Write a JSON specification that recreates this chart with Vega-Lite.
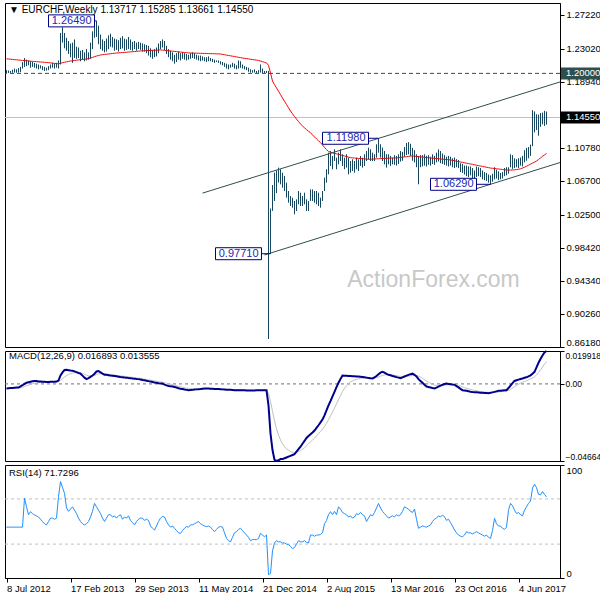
{
"$schema": "https://vega.github.io/schema/vega-lite/v6.json",
"padding": {"top": 2, "left": 2, "right": 0, "bottom": 0},
"background": "#ffffff",
"spacing": 4,
"bounds": "flush",
"config": {
  "view": {"stroke": "#000000", "strokeWidth": 1},
  "font": "Liberation Sans",
  "axis": {"labelFont": "Liberation Sans", "labelFontSize": 9.5, "labelColor": "#000000", "tickColor": "#000000", "domainColor": "#000000", "grid": false, "tickSize": 4, "labelPadding": 2, "labelOverlap": false},
  "title": {"font": "Liberation Sans", "fontSize": 9.5, "fontWeight": "normal", "color": "#000000", "anchor": "start", "frame": "group"}
},
"datasets": {
"trend": [
{"id": "upper", "w": 98, "p": 1.052},
{"id": "upper", "w": 276.75, "p": 1.1894},
{"id": "lower", "w": 129, "p": 0.9756},
{"id": "lower", "w": 276.75, "p": 1.0898}
],
"notes": [
{"t": "1.26490", "w": 45, "p": 1.2649, "bw": 44},
{"t": "1.11980", "w": 186, "p": 1.1198, "bw": 181},
{"t": "1.06290", "w": 242, "p": 1.0629, "bw": 235},
{"t": "0.97710", "w": 132, "p": 0.9771, "bw": 127.5}
],
"wk": [
{"w":0,"h":1.2040,"l":1.2005,"ma":1.2180,"m":-0.0027,"s":-0.0027,"r":45},
{"w":1,"h":1.2035,"l":1.2005,"ma":1.2178,"m":-0.0026,"s":-0.0027,"r":45},
{"w":2,"h":1.2030,"l":1.2006,"ma":1.2175,"m":-0.0025,"s":-0.0027,"r":45},
{"w":3,"h":1.2045,"l":1.2008,"ma":1.2173,"m":-0.0024,"s":-0.0026,"r":45},
{"w":4,"h":1.2060,"l":1.2010,"ma":1.2170,"m":-0.0023,"s":-0.0026,"r":45},
{"w":5,"h":1.2050,"l":1.2008,"ma":1.2168,"m":-0.0022,"s":-0.0025,"r":45},
{"w":6,"h":1.2065,"l":1.2010,"ma":1.2165,"m":-0.0022,"s":-0.0025,"r":45},
{"w":7,"h":1.2080,"l":1.2015,"ma":1.2163,"m":-0.0015,"s":-0.0023,"r":45},
{"w":8,"h":1.2140,"l":1.2060,"ma":1.2160,"m":-0.0008,"s":-0.0020,"r":45},
{"w":9,"h":1.2190,"l":1.2080,"ma":1.2158,"m":0.0000,"s":-0.0016,"r":70.6},
{"w":10,"h":1.2170,"l":1.2090,"ma":1.2156,"m":0.0007,"s":-0.0011,"r":63},
{"w":11,"h":1.2160,"l":1.2100,"ma":1.2154,"m":0.0010,"s":-0.0007,"r":56},
{"w":12,"h":1.2150,"l":1.2070,"ma":1.2151,"m":0.0013,"s":-0.0003,"r":58.7},
{"w":13,"h":1.2140,"l":1.2080,"ma":1.2149,"m":0.0016,"s":0.0001,"r":57},
{"w":14,"h":1.2130,"l":1.2070,"ma":1.2147,"m":0.0018,"s":0.0004,"r":55.8},
{"w":15,"h":1.2120,"l":1.2060,"ma":1.2145,"m":0.0017,"s":0.0007,"r":55},
{"w":16,"h":1.2110,"l":1.2050,"ma":1.2143,"m":0.0015,"s":0.0008,"r":54},
{"w":17,"h":1.2100,"l":1.2060,"ma":1.2141,"m":0.0014,"s":0.0009,"r":52},
{"w":18,"h":1.2090,"l":1.2040,"ma":1.2139,"m":0.0013,"s":0.0010,"r":50},
{"w":19,"h":1.2080,"l":1.2030,"ma":1.2137,"m":0.0013,"s":0.0011,"r":48},
{"w":20,"h":1.2070,"l":1.2035,"ma":1.2135,"m":0.0012,"s":0.0011,"r":47},
{"w":21,"h":1.2090,"l":1.2040,"ma":1.2133,"m":0.0012,"s":0.0011,"r":50},
{"w":22,"h":1.2110,"l":1.2060,"ma":1.2130,"m":0.0013,"s":0.0012,"r":53},
{"w":23,"h":1.2130,"l":1.2070,"ma":1.2127,"m":0.0013,"s":0.0012,"r":53},
{"w":24,"h":1.2120,"l":1.2060,"ma":1.2124,"m":0.0013,"s":0.0012,"r":52},
{"w":25,"h":1.2130,"l":1.2070,"ma":1.2121,"m":0.0014,"s":0.0013,"r":53},
{"w":26,"h":1.2160,"l":1.2060,"ma":1.2118,"m":0.0020,"s":0.0014,"r":72},
{"w":27,"h":1.2500,"l":1.2110,"ma":1.2125,"m":0.0051,"s":0.0021,"r":85.4},
{"w":28,"h":1.2570,"l":1.2380,"ma":1.2132,"m":0.0070,"s":0.0031,"r":80},
{"w":29,"h":1.2500,"l":1.2310,"ma":1.2138,"m":0.0084,"s":0.0042,"r":75},
{"w":30,"h":1.2440,"l":1.2280,"ma":1.2143,"m":0.0085,"s":0.0050,"r":62},
{"w":31,"h":1.2400,"l":1.2240,"ma":1.2148,"m":0.0083,"s":0.0057,"r":59},
{"w":32,"h":1.2370,"l":1.2200,"ma":1.2153,"m":0.0081,"s":0.0062,"r":61},
{"w":33,"h":1.2380,"l":1.2130,"ma":1.2156,"m":0.0080,"s":0.0065,"r":63},
{"w":34,"h":1.2420,"l":1.2190,"ma":1.2160,"m":0.0076,"s":0.0068,"r":60},
{"w":35,"h":1.2330,"l":1.2180,"ma":1.2163,"m":0.0071,"s":0.0068,"r":57},
{"w":36,"h":1.2320,"l":1.2190,"ma":1.2166,"m":0.0066,"s":0.0068,"r":53},
{"w":37,"h":1.2280,"l":1.2150,"ma":1.2169,"m":0.0062,"s":0.0067,"r":50},
{"w":38,"h":1.2290,"l":1.2170,"ma":1.2172,"m":0.0050,"s":0.0064,"r":48},
{"w":39,"h":1.2260,"l":1.2150,"ma":1.2175,"m":0.0038,"s":0.0058,"r":47},
{"w":40,"h":1.2300,"l":1.2160,"ma":1.2178,"m":0.0029,"s":0.0053,"r":48},
{"w":41,"h":1.2260,"l":1.2170,"ma":1.2182,"m":0.0035,"s":0.0049,"r":50},
{"w":42,"h":1.2380,"l":1.2180,"ma":1.2190,"m":0.0043,"s":0.0048,"r":54},
{"w":43,"h":1.2520,"l":1.2300,"ma":1.2198,"m":0.0051,"s":0.0049,"r":59},
{"w":44,"h":1.2600,"l":1.2440,"ma":1.2206,"m":0.0062,"s":0.0051,"r":66},
{"w":45,"h":1.2649,"l":1.2450,"ma":1.2214,"m":0.0075,"s":0.0056,"r":63},
{"w":46,"h":1.2590,"l":1.2360,"ma":1.2221,"m":0.0078,"s":0.0060,"r":60},
{"w":47,"h":1.2480,"l":1.2300,"ma":1.2228,"m":0.0070,"s":0.0062,"r":57},
{"w":48,"h":1.2420,"l":1.2280,"ma":1.2231,"m":0.0062,"s":0.0062,"r":53},
{"w":49,"h":1.2400,"l":1.2260,"ma":1.2234,"m":0.0056,"s":0.0061,"r":50},
{"w":50,"h":1.2430,"l":1.2270,"ma":1.2237,"m":0.0055,"s":0.0060,"r":53},
{"w":51,"h":1.2470,"l":1.2300,"ma":1.2240,"m":0.0053,"s":0.0058,"r":56},
{"w":52,"h":1.2490,"l":1.2330,"ma":1.2243,"m":0.0051,"s":0.0057,"r":56},
{"w":53,"h":1.2450,"l":1.2320,"ma":1.2246,"m":0.0050,"s":0.0055,"r":54},
{"w":54,"h":1.2430,"l":1.2280,"ma":1.2249,"m":0.0048,"s":0.0054,"r":55},
{"w":55,"h":1.2420,"l":1.2290,"ma":1.2252,"m":0.0046,"s":0.0052,"r":53},
{"w":56,"h":1.2410,"l":1.2270,"ma":1.2254,"m":0.0044,"s":0.0050,"r":55},
{"w":57,"h":1.2440,"l":1.2300,"ma":1.2256,"m":0.0042,"s":0.0049,"r":56},
{"w":58,"h":1.2460,"l":1.2310,"ma":1.2258,"m":0.0041,"s":0.0047,"r":52},
{"w":59,"h":1.2430,"l":1.2280,"ma":1.2260,"m":0.0039,"s":0.0046,"r":54},
{"w":60,"h":1.2420,"l":1.2290,"ma":1.2262,"m":0.0038,"s":0.0044,"r":53},
{"w":61,"h":1.2450,"l":1.2300,"ma":1.2264,"m":0.0036,"s":0.0043,"r":55},
{"w":62,"h":1.2420,"l":1.2290,"ma":1.2266,"m":0.0035,"s":0.0041,"r":51},
{"w":63,"h":1.2390,"l":1.2280,"ma":1.2268,"m":0.0033,"s":0.0040,"r":49},
{"w":64,"h":1.2400,"l":1.2300,"ma":1.2270,"m":0.0032,"s":0.0038,"r":47},
{"w":65,"h":1.2380,"l":1.2280,"ma":1.2272,"m":0.0030,"s":0.0036,"r":50},
{"w":66,"h":1.2390,"l":1.2300,"ma":1.2275,"m":0.0029,"s":0.0035,"r":52},
{"w":67,"h":1.2380,"l":1.2290,"ma":1.2277,"m":0.0027,"s":0.0033,"r":53},
{"w":68,"h":1.2370,"l":1.2270,"ma":1.2278,"m":0.0024,"s":0.0031,"r":53},
{"w":69,"h":1.2360,"l":1.2270,"ma":1.2280,"m":0.0022,"s":0.0029,"r":51},
{"w":70,"h":1.2350,"l":1.2250,"ma":1.2281,"m":0.0019,"s":0.0027,"r":52},
{"w":71,"h":1.2340,"l":1.2220,"ma":1.2282,"m":0.0017,"s":0.0025,"r":51},
{"w":72,"h":1.2310,"l":1.2200,"ma":1.2284,"m":0.0014,"s":0.0023,"r":46},
{"w":73,"h":1.2290,"l":1.2180,"ma":1.2285,"m":0.0012,"s":0.0021,"r":44},
{"w":74,"h":1.2300,"l":1.2200,"ma":1.2286,"m":0.0009,"s":0.0019,"r":42.4},
{"w":75,"h":1.2320,"l":1.2210,"ma":1.2287,"m":0.0007,"s":0.0016,"r":46},
{"w":76,"h":1.2370,"l":1.2250,"ma":1.2289,"m":0.0004,"s":0.0014,"r":50},
{"w":77,"h":1.2400,"l":1.2300,"ma":1.2290,"m":0.0003,"s":0.0012,"r":53},
{"w":78,"h":1.2420,"l":1.2320,"ma":1.2288,"m":0.0002,"s":0.0010,"r":54.5},
{"w":79,"h":1.2400,"l":1.2290,"ma":1.2285,"m":-0.0004,"s":0.0007,"r":54},
{"w":80,"h":1.2340,"l":1.2240,"ma":1.2282,"m":-0.0009,"s":0.0004,"r":50},
{"w":81,"h":1.2300,"l":1.2200,"ma":1.2280,"m":-0.0012,"s":0.0001,"r":47},
{"w":82,"h":1.2280,"l":1.2170,"ma":1.2277,"m":-0.0014,"s":-0.0002,"r":45},
{"w":83,"h":1.2260,"l":1.2150,"ma":1.2274,"m":-0.0016,"s":-0.0005,"r":46},
{"w":84,"h":1.2230,"l":1.2120,"ma":1.2272,"m":-0.0019,"s":-0.0008,"r":44},
{"w":85,"h":1.2250,"l":1.2140,"ma":1.2269,"m":-0.0022,"s":-0.0011,"r":42},
{"w":86,"h":1.2270,"l":1.2170,"ma":1.2266,"m":-0.0026,"s":-0.0014,"r":40},
{"w":87,"h":1.2250,"l":1.2160,"ma":1.2264,"m":-0.0029,"s":-0.0017,"r":39.5},
{"w":88,"h":1.2260,"l":1.2180,"ma":1.2261,"m":-0.0031,"s":-0.0020,"r":42},
{"w":89,"h":1.2250,"l":1.2170,"ma":1.2258,"m":-0.0034,"s":-0.0023,"r":44},
{"w":90,"h":1.2240,"l":1.2160,"ma":1.2256,"m":-0.0036,"s":-0.0026,"r":45.5},
{"w":91,"h":1.2230,"l":1.2170,"ma":1.2254,"m":-0.0038,"s":-0.0028,"r":45},
{"w":92,"h":1.2250,"l":1.2180,"ma":1.2252,"m":-0.0037,"s":-0.0030,"r":47},
{"w":93,"h":1.2260,"l":1.2190,"ma":1.2251,"m":-0.0036,"s":-0.0031,"r":47},
{"w":94,"h":1.2250,"l":1.2180,"ma":1.2250,"m":-0.0034,"s":-0.0032,"r":48},
{"w":95,"h":1.2230,"l":1.2170,"ma":1.2250,"m":-0.0033,"s":-0.0032,"r":49},
{"w":96,"h":1.2220,"l":1.2160,"ma":1.2249,"m":-0.0032,"s":-0.0032,"r":50},
{"w":97,"h":1.2220,"l":1.2150,"ma":1.2248,"m":-0.0031,"s":-0.0032,"r":48},
{"w":98,"h":1.2210,"l":1.2160,"ma":1.2247,"m":-0.0029,"s":-0.0031,"r":47},
{"w":99,"h":1.2200,"l":1.2150,"ma":1.2247,"m":-0.0028,"s":-0.0031,"r":46},
{"w":100,"h":1.2200,"l":1.2140,"ma":1.2246,"m":-0.0027,"s":-0.0030,"r":45.5},
{"w":101,"h":1.2210,"l":1.2150,"ma":1.2245,"m":-0.0028,"s":-0.0030,"r":46},
{"w":102,"h":1.2190,"l":1.2150,"ma":1.2244,"m":-0.0029,"s":-0.0030,"r":45},
{"w":103,"h":1.2180,"l":1.2140,"ma":1.2244,"m":-0.0029,"s":-0.0030,"r":43},
{"w":104,"h":1.2170,"l":1.2130,"ma":1.2243,"m":-0.0030,"s":-0.0030,"r":41},
{"w":105,"h":1.2160,"l":1.2140,"ma":1.2242,"m":-0.0030,"s":-0.0030,"r":43},
{"w":106,"h":1.2160,"l":1.2130,"ma":1.2241,"m":-0.0031,"s":-0.0030,"r":45},
{"w":107,"h":1.2150,"l":1.2110,"ma":1.2240,"m":-0.0032,"s":-0.0031,"r":45.5},
{"w":108,"h":1.2140,"l":1.2100,"ma":1.2235,"m":-0.0033,"s":-0.0031,"r":45},
{"w":109,"h":1.2130,"l":1.2080,"ma":1.2231,"m":-0.0034,"s":-0.0032,"r":40},
{"w":110,"h":1.2120,"l":1.2060,"ma":1.2226,"m":-0.0035,"s":-0.0033,"r":35},
{"w":111,"h":1.2110,"l":1.2050,"ma":1.2222,"m":-0.0036,"s":-0.0033,"r":33},
{"w":112,"h":1.2110,"l":1.2070,"ma":1.2217,"m":-0.0036,"s":-0.0034,"r":32},
{"w":113,"h":1.2130,"l":1.2080,"ma":1.2213,"m":-0.0037,"s":-0.0035,"r":36},
{"w":114,"h":1.2120,"l":1.2060,"ma":1.2208,"m":-0.0038,"s":-0.0035,"r":40},
{"w":115,"h":1.2100,"l":1.2050,"ma":1.2204,"m":-0.0038,"s":-0.0036,"r":41},
{"w":116,"h":1.2160,"l":1.2060,"ma":1.2199,"m":-0.0038,"s":-0.0036,"r":43},
{"w":117,"h":1.2150,"l":1.2070,"ma":1.2195,"m":-0.0039,"s":-0.0037,"r":44},
{"w":118,"h":1.2110,"l":1.2060,"ma":1.2190,"m":-0.0039,"s":-0.0037,"r":42},
{"w":119,"h":1.2090,"l":1.2050,"ma":1.2186,"m":-0.0039,"s":-0.0038,"r":40},
{"w":120,"h":1.2080,"l":1.2040,"ma":1.2183,"m":-0.0040,"s":-0.0038,"r":38},
{"w":121,"h":1.2070,"l":1.2020,"ma":1.2179,"m":-0.0040,"s":-0.0039,"r":36},
{"w":122,"h":1.2050,"l":1.2010,"ma":1.2175,"m":-0.0040,"s":-0.0039,"r":33},
{"w":123,"h":1.2040,"l":1.2008,"ma":1.2171,"m":-0.0040,"s":-0.0039,"r":34},
{"w":124,"h":1.2050,"l":1.2010,"ma":1.2168,"m":-0.0040,"s":-0.0039,"r":34},
{"w":125,"h":1.2030,"l":1.2005,"ma":1.2164,"m":-0.0039,"s":-0.0039,"r":34},
{"w":126,"h":1.2040,"l":1.2006,"ma":1.2160,"m":-0.0039,"s":-0.0039,"r":35},
{"w":127,"h":1.2110,"l":1.2010,"ma":1.2153,"m":-0.0039,"s":-0.0039,"r":39.5},
{"w":128,"h":1.2060,"l":1.2005,"ma":1.2145,"m":-0.0038,"s":-0.0039,"r":38},
{"w":129,"h":1.2030,"l":1.2005,"ma":1.2137,"m":-0.0038,"s":-0.0039,"r":36.5},
{"w":130,"h":1.2030,"l":1.2005,"ma":1.2129,"m":-0.0038,"s":-0.0039,"r":38},
{"w":131,"h":1.2030,"l":0.8717,"ma":1.2100,"m":-0.0130,"s":-0.0057,"r":3},
{"w":132,"h":1.0330,"l":0.9771,"ma":1.2005,"m":-0.0300,"s":-0.0106,"r":4},
{"w":133,"h":1.0620,"l":1.0300,"ma":1.1906,"m":-0.0400,"s":-0.0165,"r":24},
{"w":134,"h":1.0773,"l":1.0423,"ma":1.1860,"m":-0.0460,"s":-0.0224,"r":31},
{"w":135,"h":1.0800,"l":1.0520,"ma":1.1820,"m":-0.0466,"s":-0.0272,"r":33},
{"w":136,"h":1.0835,"l":1.0650,"ma":1.1780,"m":-0.0462,"s":-0.0310,"r":32},
{"w":137,"h":1.0815,"l":1.0629,"ma":1.1738,"m":-0.0455,"s":-0.0339,"r":32},
{"w":138,"h":1.0773,"l":1.0587,"ma":1.1696,"m":-0.0455,"s":-0.0362,"r":31},
{"w":139,"h":1.0732,"l":1.0546,"ma":1.1655,"m":-0.0450,"s":-0.0380,"r":31},
{"w":140,"h":1.0650,"l":1.0464,"ma":1.1615,"m":-0.0445,"s":-0.0393,"r":30},
{"w":141,"h":1.0546,"l":1.0402,"ma":1.1575,"m":-0.0440,"s":-0.0402,"r":29.5},
{"w":142,"h":1.0484,"l":1.0361,"ma":1.1535,"m":-0.0435,"s":-0.0409,"r":28},
{"w":143,"h":1.0464,"l":1.0340,"ma":1.1500,"m":-0.0430,"s":-0.0413,"r":26},
{"w":144,"h":1.0423,"l":1.0258,"ma":1.1467,"m":-0.0425,"s":-0.0415,"r":27},
{"w":145,"h":1.0443,"l":1.0299,"ma":1.1435,"m":-0.0410,"s":-0.0414,"r":30},
{"w":146,"h":1.0546,"l":1.0382,"ma":1.1404,"m":-0.0395,"s":-0.0410,"r":33},
{"w":147,"h":1.0525,"l":1.0361,"ma":1.1374,"m":-0.0380,"s":-0.0404,"r":32},
{"w":148,"h":1.0484,"l":1.0361,"ma":1.1350,"m":-0.0362,"s":-0.0396,"r":32},
{"w":149,"h":1.0525,"l":1.0382,"ma":1.1327,"m":-0.0345,"s":-0.0386,"r":33},
{"w":150,"h":1.0443,"l":1.0299,"ma":1.1305,"m":-0.0327,"s":-0.0374,"r":31.5},
{"w":151,"h":1.0423,"l":1.0299,"ma":1.1285,"m":-0.0315,"s":-0.0362,"r":31},
{"w":152,"h":1.0566,"l":1.0423,"ma":1.1267,"m":-0.0305,"s":-0.0351,"r":38},
{"w":153,"h":1.0566,"l":1.0423,"ma":1.1240,"m":-0.0294,"s":-0.0339,"r":38},
{"w":154,"h":1.0546,"l":1.0402,"ma":1.1215,"m":-0.0282,"s":-0.0328,"r":37},
{"w":155,"h":1.0546,"l":1.0382,"ma":1.1190,"m":-0.0266,"s":-0.0315,"r":38},
{"w":156,"h":1.0525,"l":1.0361,"ma":1.1166,"m":-0.0250,"s":-0.0302,"r":38},
{"w":157,"h":1.0464,"l":1.0340,"ma":1.1144,"m":-0.0233,"s":-0.0288,"r":38.5},
{"w":158,"h":1.0546,"l":1.0423,"ma":1.1115,"m":-0.0216,"s":-0.0274,"r":40},
{"w":159,"h":1.0711,"l":1.0546,"ma":1.1085,"m":-0.0190,"s":-0.0257,"r":48},
{"w":160,"h":1.0815,"l":1.0650,"ma":1.1058,"m":-0.0160,"s":-0.0238,"r":51},
{"w":161,"h":1.1020,"l":1.0753,"ma":1.1035,"m":-0.0130,"s":-0.0216,"r":56},
{"w":162,"h":1.1041,"l":1.0856,"ma":1.1025,"m":-0.0104,"s":-0.0194,"r":58.7},
{"w":163,"h":1.0979,"l":1.0815,"ma":1.1018,"m":-0.0075,"s":-0.0170,"r":56},
{"w":164,"h":1.1062,"l":1.0917,"ma":1.1012,"m":-0.0048,"s":-0.0146,"r":59},
{"w":165,"h":1.0958,"l":1.0815,"ma":1.1005,"m":-0.0020,"s":-0.0121,"r":56},
{"w":166,"h":1.1020,"l":1.0876,"ma":1.1000,"m":0.0007,"s":-0.0095,"r":63},
{"w":167,"h":1.1062,"l":1.0917,"ma":1.0993,"m":0.0030,"s":-0.0070,"r":61},
{"w":168,"h":1.1000,"l":1.0856,"ma":1.0986,"m":0.0051,"s":-0.0046,"r":58},
{"w":169,"h":1.0958,"l":1.0815,"ma":1.0979,"m":0.0050,"s":-0.0027,"r":57},
{"w":170,"h":1.1000,"l":1.0835,"ma":1.0972,"m":0.0049,"s":-0.0011,"r":56},
{"w":171,"h":1.0958,"l":1.0753,"ma":1.0965,"m":0.0048,"s":0.0001,"r":54},
{"w":172,"h":1.0917,"l":1.0773,"ma":1.0958,"m":0.0048,"s":0.0011,"r":55},
{"w":173,"h":1.0938,"l":1.0794,"ma":1.0956,"m":0.0047,"s":0.0018,"r":53},
{"w":174,"h":1.0917,"l":1.0773,"ma":1.0953,"m":0.0046,"s":0.0024,"r":54},
{"w":175,"h":1.0958,"l":1.0815,"ma":1.0951,"m":0.0045,"s":0.0028,"r":57},
{"w":176,"h":1.0938,"l":1.0794,"ma":1.0949,"m":0.0045,"s":0.0031,"r":56},
{"w":177,"h":1.0979,"l":1.0856,"ma":1.0947,"m":0.0044,"s":0.0034,"r":58},
{"w":178,"h":1.0958,"l":1.0835,"ma":1.0945,"m":0.0042,"s":0.0035,"r":56},
{"w":179,"h":1.1000,"l":1.0856,"ma":1.0943,"m":0.0040,"s":0.0036,"r":55},
{"w":180,"h":1.1041,"l":1.0917,"ma":1.0940,"m":0.0038,"s":0.0036,"r":50},
{"w":181,"h":1.1082,"l":1.0938,"ma":1.0938,"m":0.0036,"s":0.0036,"r":53},
{"w":182,"h":1.1062,"l":1.0917,"ma":1.0939,"m":0.0034,"s":0.0036,"r":56},
{"w":183,"h":1.1020,"l":1.0917,"ma":1.0941,"m":0.0033,"s":0.0035,"r":55},
{"w":184,"h":1.1000,"l":1.0917,"ma":1.0942,"m":0.0040,"s":0.0036,"r":58},
{"w":185,"h":1.1124,"l":1.0958,"ma":1.0944,"m":0.0048,"s":0.0039,"r":62},
{"w":186,"h":1.1198,"l":1.1020,"ma":1.0945,"m":0.0058,"s":0.0042,"r":66},
{"w":187,"h":1.1124,"l":1.0958,"ma":1.0947,"m":0.0068,"s":0.0047,"r":62},
{"w":188,"h":1.1082,"l":1.0917,"ma":1.0948,"m":0.0073,"s":0.0052,"r":59},
{"w":189,"h":1.1041,"l":1.0876,"ma":1.0950,"m":0.0068,"s":0.0055,"r":57},
{"w":190,"h":1.1000,"l":1.0835,"ma":1.0951,"m":0.0061,"s":0.0056,"r":55},
{"w":191,"h":1.1000,"l":1.0876,"ma":1.0952,"m":0.0055,"s":0.0056,"r":53},
{"w":192,"h":1.0979,"l":1.0856,"ma":1.0953,"m":0.0052,"s":0.0055,"r":54},
{"w":193,"h":1.0958,"l":1.0876,"ma":1.0954,"m":0.0048,"s":0.0054,"r":55},
{"w":194,"h":1.0990,"l":1.0870,"ma":1.0954,"m":0.0045,"s":0.0052,"r":54},
{"w":195,"h":1.0980,"l":1.0860,"ma":1.0955,"m":0.0041,"s":0.0050,"r":56},
{"w":196,"h":1.1000,"l":1.0880,"ma":1.0958,"m":0.0038,"s":0.0047,"r":55},
{"w":197,"h":1.1040,"l":1.0910,"ma":1.0961,"m":0.0035,"s":0.0045,"r":56},
{"w":198,"h":1.1030,"l":1.0920,"ma":1.0964,"m":0.0040,"s":0.0044,"r":59},
{"w":199,"h":1.1090,"l":1.0970,"ma":1.0967,"m":0.0045,"s":0.0044,"r":63},
{"w":200,"h":1.1140,"l":1.0990,"ma":1.0970,"m":0.0050,"s":0.0045,"r":62},
{"w":201,"h":1.1150,"l":1.1000,"ma":1.0974,"m":0.0055,"s":0.0047,"r":61},
{"w":202,"h":1.1130,"l":1.0980,"ma":1.0977,"m":0.0059,"s":0.0049,"r":59},
{"w":203,"h":1.1080,"l":1.0920,"ma":1.0980,"m":0.0062,"s":0.0052,"r":58},
{"w":204,"h":1.1050,"l":1.0900,"ma":1.0977,"m":0.0055,"s":0.0053,"r":61},
{"w":205,"h":1.1000,"l":1.0840,"ma":1.0974,"m":0.0045,"s":0.0051,"r":52},
{"w":206,"h":1.0980,"l":1.0629,"ma":1.0971,"m":0.0029,"s":0.0047,"r":44},
{"w":207,"h":1.0990,"l":1.0840,"ma":1.0968,"m":0.0018,"s":0.0041,"r":45},
{"w":208,"h":1.0990,"l":1.0850,"ma":1.0966,"m":0.0007,"s":0.0034,"r":46},
{"w":209,"h":1.1000,"l":1.0860,"ma":1.0963,"m":-0.0005,"s":0.0026,"r":45.5},
{"w":210,"h":1.0980,"l":1.0850,"ma":1.0960,"m":-0.0016,"s":0.0018,"r":45},
{"w":211,"h":1.0990,"l":1.0870,"ma":1.0957,"m":-0.0019,"s":0.0010,"r":46},
{"w":212,"h":1.0970,"l":1.0860,"ma":1.0954,"m":-0.0022,"s":0.0004,"r":47},
{"w":213,"h":1.1000,"l":1.0880,"ma":1.0952,"m":-0.0025,"s":-0.0002,"r":50},
{"w":214,"h":1.0980,"l":1.0870,"ma":1.0950,"m":-0.0027,"s":-0.0007,"r":52},
{"w":215,"h":1.1020,"l":1.0900,"ma":1.0947,"m":-0.0022,"s":-0.0010,"r":53},
{"w":216,"h":1.1060,"l":1.0910,"ma":1.0945,"m":-0.0016,"s":-0.0011,"r":55},
{"w":217,"h":1.1040,"l":1.0890,"ma":1.0942,"m":-0.0010,"s":-0.0011,"r":54},
{"w":218,"h":1.1010,"l":1.0880,"ma":1.0940,"m":-0.0005,"s":-0.0010,"r":55.8},
{"w":219,"h":1.0990,"l":1.0870,"ma":1.0938,"m":-0.0001,"s":-0.0008,"r":54},
{"w":220,"h":1.0970,"l":1.0860,"ma":1.0935,"m":0.0002,"s":-0.0006,"r":51},
{"w":221,"h":1.0980,"l":1.0850,"ma":1.0933,"m":0.0000,"s":-0.0005,"r":52},
{"w":222,"h":1.0970,"l":1.0860,"ma":1.0930,"m":-0.0002,"s":-0.0004,"r":49},
{"w":223,"h":1.0950,"l":1.0840,"ma":1.0925,"m":-0.0004,"s":-0.0004,"r":46},
{"w":224,"h":1.0960,"l":1.0830,"ma":1.0920,"m":-0.0005,"s":-0.0004,"r":42.4},
{"w":225,"h":1.0940,"l":1.0840,"ma":1.0915,"m":-0.0013,"s":-0.0006,"r":40},
{"w":226,"h":1.0930,"l":1.0830,"ma":1.0910,"m":-0.0021,"s":-0.0009,"r":38},
{"w":227,"h":1.0890,"l":1.0780,"ma":1.0905,"m":-0.0030,"s":-0.0013,"r":37},
{"w":228,"h":1.0880,"l":1.0770,"ma":1.0900,"m":-0.0038,"s":-0.0018,"r":36.5},
{"w":229,"h":1.0860,"l":1.0750,"ma":1.0895,"m":-0.0040,"s":-0.0022,"r":38},
{"w":230,"h":1.0860,"l":1.0730,"ma":1.0890,"m":-0.0042,"s":-0.0026,"r":41},
{"w":231,"h":1.0850,"l":1.0720,"ma":1.0885,"m":-0.0044,"s":-0.0030,"r":40},
{"w":232,"h":1.0850,"l":1.0740,"ma":1.0880,"m":-0.0047,"s":-0.0033,"r":40},
{"w":233,"h":1.0830,"l":1.0700,"ma":1.0875,"m":-0.0049,"s":-0.0036,"r":39},
{"w":234,"h":1.0800,"l":1.0690,"ma":1.0870,"m":-0.0050,"s":-0.0039,"r":40},
{"w":235,"h":1.0850,"l":1.0720,"ma":1.0865,"m":-0.0051,"s":-0.0041,"r":41},
{"w":236,"h":1.0840,"l":1.0730,"ma":1.0860,"m":-0.0052,"s":-0.0044,"r":40},
{"w":237,"h":1.0830,"l":1.0720,"ma":1.0855,"m":-0.0053,"s":-0.0046,"r":39},
{"w":238,"h":1.0800,"l":1.0690,"ma":1.0850,"m":-0.0054,"s":-0.0048,"r":38},
{"w":239,"h":1.0780,"l":1.0680,"ma":1.0845,"m":-0.0055,"s":-0.0049,"r":37},
{"w":240,"h":1.0770,"l":1.0670,"ma":1.0840,"m":-0.0055,"s":-0.0050,"r":38},
{"w":241,"h":1.0750,"l":1.0650,"ma":1.0835,"m":-0.0056,"s":-0.0051,"r":36},
{"w":242,"h":1.0740,"l":1.0629,"ma":1.0830,"m":-0.0054,"s":-0.0052,"r":35},
{"w":243,"h":1.0760,"l":1.0660,"ma":1.0827,"m":-0.0051,"s":-0.0052,"r":42},
{"w":244,"h":1.0840,"l":1.0690,"ma":1.0824,"m":-0.0048,"s":-0.0051,"r":52.8},
{"w":245,"h":1.0810,"l":1.0700,"ma":1.0821,"m":-0.0045,"s":-0.0050,"r":48},
{"w":246,"h":1.0790,"l":1.0680,"ma":1.0818,"m":-0.0042,"s":-0.0049,"r":46},
{"w":247,"h":1.0770,"l":1.0690,"ma":1.0815,"m":-0.0041,"s":-0.0047,"r":46},
{"w":248,"h":1.0780,"l":1.0700,"ma":1.0812,"m":-0.0040,"s":-0.0046,"r":44},
{"w":249,"h":1.0830,"l":1.0730,"ma":1.0809,"m":-0.0039,"s":-0.0045,"r":43},
{"w":250,"h":1.0840,"l":1.0740,"ma":1.0806,"m":-0.0038,"s":-0.0043,"r":45},
{"w":251,"h":1.0840,"l":1.0760,"ma":1.0805,"m":-0.0025,"s":-0.0040,"r":60},
{"w":252,"h":1.1000,"l":1.0840,"ma":1.0805,"m":-0.0010,"s":-0.0034,"r":66},
{"w":253,"h":1.0990,"l":1.0820,"ma":1.0806,"m":0.0005,"s":-0.0026,"r":64},
{"w":254,"h":1.0950,"l":1.0830,"ma":1.0808,"m":0.0018,"s":-0.0017,"r":60},
{"w":255,"h":1.0940,"l":1.0840,"ma":1.0811,"m":0.0022,"s":-0.0009,"r":57},
{"w":256,"h":1.0950,"l":1.0830,"ma":1.0815,"m":0.0026,"s":-0.0002,"r":58},
{"w":257,"h":1.0960,"l":1.0860,"ma":1.0820,"m":0.0030,"s":0.0004,"r":56},
{"w":258,"h":1.0980,"l":1.0850,"ma":1.0830,"m":0.0033,"s":0.0010,"r":55},
{"w":259,"h":1.1050,"l":1.0900,"ma":1.0840,"m":0.0037,"s":0.0015,"r":60},
{"w":260,"h":1.1080,"l":1.0920,"ma":1.0852,"m":0.0040,"s":0.0020,"r":63},
{"w":261,"h":1.1090,"l":1.0950,"ma":1.0865,"m":0.0046,"s":0.0025,"r":66},
{"w":262,"h":1.1120,"l":1.0980,"ma":1.0878,"m":0.0052,"s":0.0030,"r":68},
{"w":263,"h":1.1545,"l":1.1100,"ma":1.0890,"m":0.0062,"s":0.0036,"r":79.5},
{"w":264,"h":1.1530,"l":1.1270,"ma":1.0903,"m":0.0073,"s":0.0043,"r":83},
{"w":265,"h":1.1495,"l":1.1300,"ma":1.0917,"m":0.0100,"s":0.0054,"r":80},
{"w":266,"h":1.1490,"l":1.1230,"ma":1.0935,"m":0.0128,"s":0.0069,"r":74},
{"w":267,"h":1.1510,"l":1.1340,"ma":1.0955,"m":0.0151,"s":0.0085,"r":73.6},
{"w":268,"h":1.1515,"l":1.1370,"ma":1.0975,"m":0.0172,"s":0.0102,"r":76.5},
{"w":269,"h":1.1537,"l":1.1350,"ma":1.0992,"m":0.0190,"s":0.0120,"r":74},
{"w":270,"h":1.15285,"l":1.13661,"ma":1.1010,"m":0.0199,"s":0.0136,"r":71.7296}
]
},
"vconcat": [
{
  "width": 555, "height": 344,
  "title": {"text": "▼  EURCHF,Weekly  1.13717 1.15285 1.13661 1.14550", "offset": -12, "dx": 4, "fontSize": 10},
  "layer": [
    {"data": {"values": [{}]}, "mark": {"type": "text", "fontSize": 23, "color": "#c8c8c8", "align": "center", "baseline": "middle", "font": "Liberation Sans"},
     "encoding": {"x": {"datum": 213.5, "type": "quantitative", "scale": {"domain": [-0.75, 276.75], "nice": false, "zero": false}, "axis": null},
                  "y": {"datum": 0.9446, "type": "quantitative", "scale": {"domain": [0.8618, 1.287], "nice": false, "zero": false},
                        "axis": {"orient": "right", "title": null, "values": [1.2722, 1.2302, 1.1894, 1.1078, 1.067, 1.025, 0.9842, 0.9434, 0.9026, 0.8618], "tickCount": 20, "format": ".5f", "labelOverlap": false, "labelFlush": true}},
                  "text": {"value": "ActionForex.com"}}},
    {"data": {"values": [{}]}, "mark": {"type": "rule", "color": "#2f4f4f", "strokeDash": [4, 3], "strokeWidth": 1},
     "encoding": {"y": {"datum": 1.2, "type": "quantitative"}}},
    {"data": {"values": [{}]}, "mark": {"type": "rule", "color": "#c0c0c0", "strokeWidth": 1},
     "encoding": {"y": {"datum": 1.1455, "type": "quantitative"}}},
    {"data": {"name": "wk"}, "mark": {"type": "rule", "color": "#16475e", "strokeWidth": 1},
     "encoding": {"x": {"field": "w", "type": "quantitative"}, "y": {"field": "h", "type": "quantitative"}, "y2": {"field": "l"}}},
    {"data": {"name": "wk"}, "mark": {"type": "line", "color": "#ff0000", "strokeWidth": 1},
     "encoding": {"x": {"field": "w", "type": "quantitative"}, "y": {"field": "ma", "type": "quantitative"}}},
    {"data": {"name": "trend"}, "mark": {"type": "line", "color": "#2f4f4f", "strokeWidth": 1},
     "encoding": {"x": {"field": "w", "type": "quantitative"}, "y": {"field": "p", "type": "quantitative"}, "detail": {"field": "id"}}},
    {"data": {"name": "notes"}, "mark": {"type": "rule", "color": "#000080", "strokeWidth": 1},
     "encoding": {"x": {"field": "bw", "type": "quantitative"}, "x2": {"field": "w"}, "y": {"field": "p", "type": "quantitative"}}},
    {"data": {"name": "notes"}, "mark": {"type": "rect", "fill": "#ffffff", "stroke": "#000080", "strokeWidth": 1, "xOffset": -46, "yOffset": -6, "y2Offset": 6},
     "encoding": {"x": {"field": "bw", "type": "quantitative"}, "x2": {"field": "bw"}, "y": {"field": "p", "type": "quantitative"}, "y2": {"field": "p"}}},
    {"data": {"name": "notes"}, "mark": {"type": "text", "align": "right", "baseline": "middle", "dx": -3, "fontSize": 11, "color": "#2626b0", "font": "Liberation Sans"},
     "encoding": {"x": {"field": "bw", "type": "quantitative"}, "y": {"field": "p", "type": "quantitative"}, "text": {"field": "t"}}},
    {"data": {"values": [{}]}, "mark": {"type": "rect", "fill": "#2f4f4f", "xOffset": 1, "x2Offset": 43, "yOffset": -6, "y2Offset": 6},
     "encoding": {"x": {"value": "width"}, "x2": {"value": "width"}, "y": {"datum": 1.2, "type": "quantitative"}, "y2": {"datum": 1.2}}},
    {"data": {"values": [{}]}, "mark": {"type": "text", "align": "left", "baseline": "middle", "dx": 6, "fontSize": 9.5, "color": "#ffffff"},
     "encoding": {"x": {"value": "width"}, "y": {"datum": 1.2, "type": "quantitative"}, "text": {"value": "1.20000"}}},
    {"data": {"values": [{}]}, "mark": {"type": "rect", "fill": "#000000", "xOffset": 1, "x2Offset": 43, "yOffset": -6, "y2Offset": 6},
     "encoding": {"x": {"value": "width"}, "x2": {"value": "width"}, "y": {"datum": 1.1455, "type": "quantitative"}, "y2": {"datum": 1.1455}}},
    {"data": {"values": [{}]}, "mark": {"type": "text", "align": "left", "baseline": "middle", "dx": 6, "fontSize": 9.5, "color": "#ffffff"},
     "encoding": {"x": {"value": "width"}, "y": {"datum": 1.1455, "type": "quantitative"}, "text": {"value": "1.14550"}}}
  ]
},
{
  "width": 555, "height": 110,
  "title": {"text": "MACD(12,26,9) 0.016893 0.013555", "offset": -13, "dx": 4},
  "layer": [
    {"data": {"values": [{}]}, "mark": {"type": "rule", "color": "#707070", "strokeDash": [3, 3], "strokeWidth": 1},
     "encoding": {"y": {"datum": 0, "type": "quantitative", "scale": {"domain": [-0.046641, 0.019918], "nice": false, "zero": false},
                        "axis": {"orient": "right", "title": null, "values": [0.019918, 0, -0.046641], "labelExpr": "datum.value == 0 ? '0.00' : format(datum.value, '.6f')", "labelFlush": true, "labelOverlap": false, "labelFontSize": 8.5, "labelPadding": 1}}}},
    {"data": {"name": "wk"}, "mark": {"type": "line", "color": "#c0c0c0", "strokeWidth": 1},
     "encoding": {"x": {"field": "w", "type": "quantitative", "scale": {"domain": [-0.75, 276.75], "nice": false, "zero": false}, "axis": null},
                  "y": {"field": "s", "type": "quantitative", "title": null}}},
    {"data": {"name": "wk"}, "mark": {"type": "line", "color": "#00008b", "strokeWidth": 2},
     "encoding": {"x": {"field": "w", "type": "quantitative"}, "y": {"field": "m", "type": "quantitative", "title": null}}}
  ]
},
{
  "width": 555, "height": 113,
  "title": {"text": "RSI(14) 71.7296", "offset": -13, "dx": 4},
  "layer": [
    {"data": {"values": [{"lv": 70}, {"lv": 30}]}, "mark": {"type": "rule", "color": "#c0c0c0", "strokeDash": [3, 3], "strokeWidth": 1},
     "encoding": {"y": {"field": "lv", "type": "quantitative", "scale": {"domain": [0, 100], "nice": false, "zero": false},
                        "axis": {"orient": "right", "title": null, "values": [100, 70, 30, 0], "labelFlush": true, "labelOverlap": false}}}},
    {"data": {"name": "wk"}, "mark": {"type": "line", "color": "#1e90ff", "strokeWidth": 1},
     "encoding": {"x": {"field": "w", "type": "quantitative", "scale": {"domain": [-0.75, 276.75], "nice": false, "zero": false},
                        "axis": {"values": [0, 32, 64, 96, 128, 160, 192, 224, 256], "tickCount": 20, "labelExpr": "timeFormat(datetime(2012, 6, 8 + datum.value * 7), '%-d %b %Y')", "labelAlign": "left", "labelFlush": false, "labelOverlap": false, "tickSize": 4, "labelPadding": 1, "title": null}},
                  "y": {"field": "r", "type": "quantitative", "title": null}}}
  ]
}
]
}
